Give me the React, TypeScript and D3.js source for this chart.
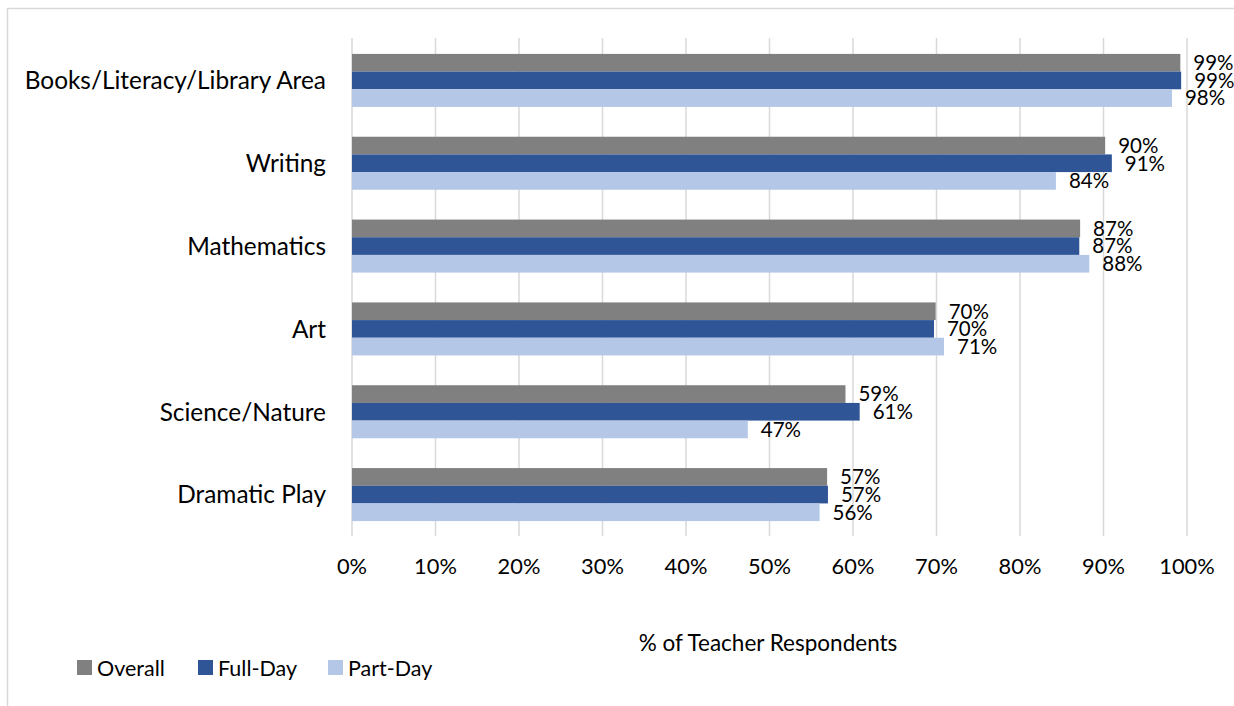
import React from "react";
import * as d3 from "d3";

const categories = [
  "Books/Literacy/Library Area",
  "Writing",
  "Mathematics",
  "Art",
  "Science/Nature",
  "Dramatic Play",
];
const seriesNames = ["Overall", "Full-Day", "Part-Day"];
const overall = [99.2, 90.2, 87.2, 69.9, 59.1, 56.9];
const fullDay = [99.3, 91.0, 87.1, 69.7, 60.8, 57.0];
const partDay = [98.2, 84.3, 88.3, 70.9, 47.4, 56.0];
const labelsOverall = ["99%", "90%", "87%", "70%", "59%", "57%"];
const labelsFull = ["99%", "91%", "87%", "70%", "61%", "57%"];
const labelsPart = ["98%", "84%", "88%", "71%", "47%", "56%"];
const xTicks = [0, 10, 20, 30, 40, 50, 60, 70, 80, 90, 100];
const colors = ["#808080", "#2F5597", "#B4C7E7"];

const W = 1234;
const H = 706;
const FONT = "Lato, 'Open Sans', sans-serif";

export default function App() {
  const x = d3.scaleLinear().domain([0, 100]).range([352, 1187]);
  const y = d3
    .scaleBand<string>()
    .domain(categories)
    .range([39, 536])
    .paddingInner(0.36)
    .paddingOuter(0.18);
  const inner = d3
    .scaleBand<string>()
    .domain(seriesNames)
    .range([0, y.bandwidth()]);
  const series = [
    { name: seriesNames[0], values: overall, labels: labelsOverall },
    { name: seriesNames[1], values: fullDay, labels: labelsFull },
    { name: seriesNames[2], values: partDay, labels: labelsPart },
  ];
  const legendX = [77, 198, 328];

  return (
    <svg
      width={W}
      height={H}
      style={{ position: "absolute", left: 0, top: 0, fontFamily: FONT }}
    >
      <rect x={0} y={0} width={W} height={H} fill="#fff" />
      <rect
        x={7.5}
        y={8.5}
        width={W + 10}
        height={H + 10}
        fill="none"
        stroke="#D9D9D9"
        strokeWidth={1.5}
      />
      {xTicks.map((t) => (
        <line
          key={t}
          x1={x(t)}
          x2={x(t)}
          y1={38}
          y2={536}
          stroke="#D9D9D9"
          strokeWidth={1.5}
        />
      ))}
      {series.map((s, si) =>
        categories.map((c, ci) => (
          <rect
            key={s.name + c}
            x={x(0)}
            y={(y(c) as number) + (inner(s.name) as number)}
            width={x(s.values[ci]) - x(0)}
            height={inner.bandwidth()}
            fill={colors[si]}
          />
        ))
      )}
      {series.map((s, si) =>
        categories.map((c, ci) => (
          <text
            key={"l" + s.name + c}
            x={x(s.values[ci]) + 13}
            y={(y(c) as number) + (inner(s.name) as number) + inner.bandwidth() / 2}
            dy="0.36em"
            fontSize={20.5}
            fill="#000"
          >
            {s.labels[ci]}
          </text>
        ))
      )}
      {categories.map((c) => (
        <text
          key={"c" + c}
          x={326}
          y={(y(c) as number) + y.bandwidth() / 2}
          dy="0.36em"
          textAnchor="end"
          fontSize={24.4}
          fill="#000"
        >
          {c}
        </text>
      ))}
      {xTicks.map((t) => (
        <text
          key={"t" + t}
          x={x(t)}
          y={566}
          dy="0.36em"
          textAnchor="middle"
          fontSize={21.8}
          fill="#000"
        >
          {t + "%"}
        </text>
      ))}
      <text x={768} y={643} dy="0.36em" textAnchor="middle" fontSize={22.5} fill="#000">
        % of Teacher Respondents
      </text>
      {series.map((s, si) => (
        <g key={"lg" + s.name}>
          <rect x={legendX[si]} y={660} width={15} height={15} fill={colors[si]} />
          <text x={legendX[si] + 20} y={668} dy="0.36em" fontSize={21.5} fill="#000">
            {s.name}
          </text>
        </g>
      ))}
    </svg>
  );
}
